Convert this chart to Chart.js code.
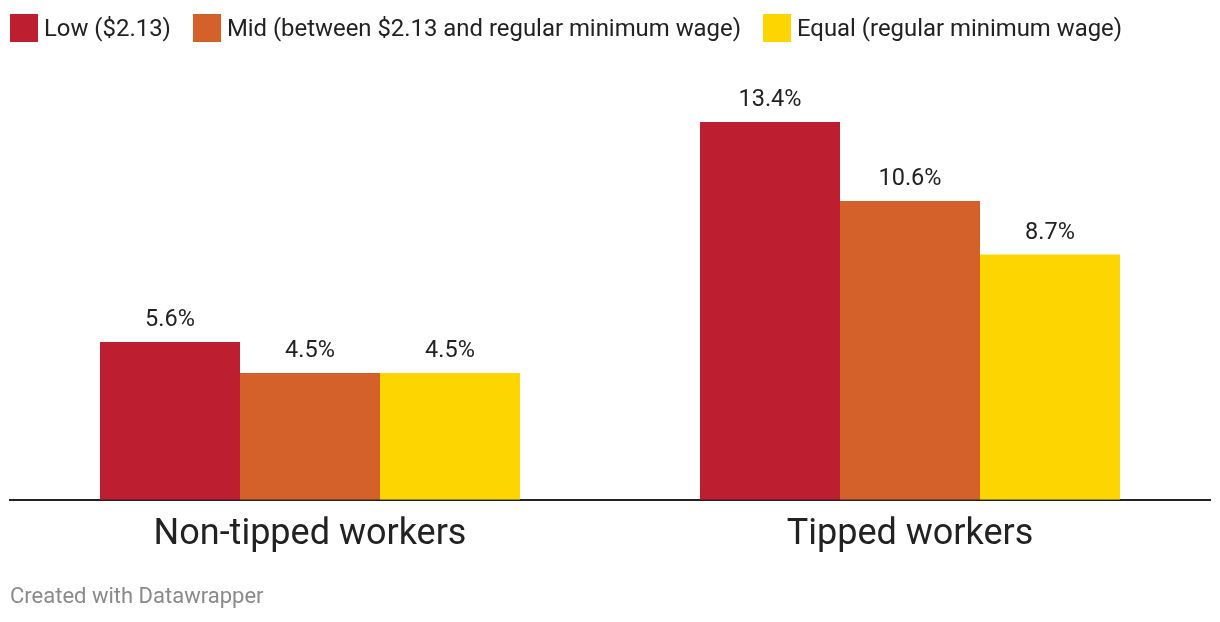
<!DOCTYPE html>
<html>
<head>
<meta charset="utf-8">
<script src="https://cdn.jsdelivr.net/npm/chart.js@4"></script>
<style>
  html, body { margin: 0; padding: 0; background: #fff; }
  body { width: 1220px; height: 622px; position: relative; overflow: hidden; font-family: Roboto, "Noto Sans", sans-serif; }
  #legend { position: absolute; left: 10px; top: 14px; display: flex; align-items: center; white-space: nowrap; }
  .item { display: flex; align-items: center; margin-right: 22px; }
  .sw { width: 28px; height: 28px; margin-right: 6px; }
  .lbl { font-size: 23.9px; color: #222; line-height: 28px; }
  #wrap { position: absolute; left: 0; top: 0; width: 1220px; height: 622px; }
  #footer { position: absolute; left: 10px; top: 582px; font-size: 22px; color: #8a8a8a; line-height: 28px; }
</style>
</head>
<body>
<div id="wrap"><canvas id="c" width="1220" height="622"></canvas></div>
<div id="legend"></div>
<div id="footer">Created with Datawrapper</div>
<script>
const categories = ["Non-tipped workers", "Tipped workers"];
const seriesNames = ["Low ($2.13)", "Mid (between $2.13 and regular minimum wage)", "Equal (regular minimum wage)"];
const lowValues = [5.6, 13.4];
const midValues = [4.5, 10.6];
const equalValues = [4.5, 8.7];
const colors = ["#BD1F30", "#D4612A", "#FDD500"];

const legend = document.getElementById('legend');
seriesNames.forEach((n, i) => {
  const it = document.createElement('div'); it.className = 'item';
  const sw = document.createElement('div'); sw.className = 'sw'; sw.style.background = colors[i];
  const lb = document.createElement('div'); lb.className = 'lbl'; lb.textContent = n;
  it.appendChild(sw); it.appendChild(lb); legend.appendChild(it);
});

const valueLabels = {
  id: 'valueLabels',
  afterDatasetsDraw(chart) {
    const ctx = chart.ctx;
    ctx.save();
    ctx.font = '23.5px Roboto, "Noto Sans", sans-serif';
    ctx.fillStyle = '#222';
    ctx.textAlign = 'center';
    ctx.textBaseline = 'alphabetic';
    chart.data.datasets.forEach((ds, di) => {
      chart.getDatasetMeta(di).data.forEach((bar, i) => {
        ctx.fillText(ds.data[i].toFixed(1) + '%', bar.x, bar.y - 16);
      });
    });
    ctx.restore();
  }
};

new Chart(document.getElementById('c'), {
  type: 'bar',
  data: {
    labels: categories,
    datasets: [
      { label: seriesNames[0], data: lowValues, backgroundColor: colors[0] },
      { label: seriesNames[1], data: midValues, backgroundColor: colors[1] },
      { label: seriesNames[2], data: equalValues, backgroundColor: colors[2] }
    ]
  },
  options: {
    responsive: false,
    animation: false,
    devicePixelRatio: 1,
    layout: { padding: { left: 10, right: 10, top: 77, bottom: 51 } },
    datasets: { bar: { categoryPercentage: 0.7, barPercentage: 1.0, borderWidth: 0 } },
    plugins: { legend: { display: false }, tooltip: { enabled: false } },
    scales: {
      y: { display: false, min: 0, max: 15 },
      x: {
        grid: { display: false, drawTicks: false },
        border: { display: true, color: '#222', width: 2 },
        ticks: { color: '#222', font: { size: 36, family: 'Roboto' }, padding: 14 }
      }
    }
  },
  plugins: [valueLabels]
});
</script>
</body>
</html>
